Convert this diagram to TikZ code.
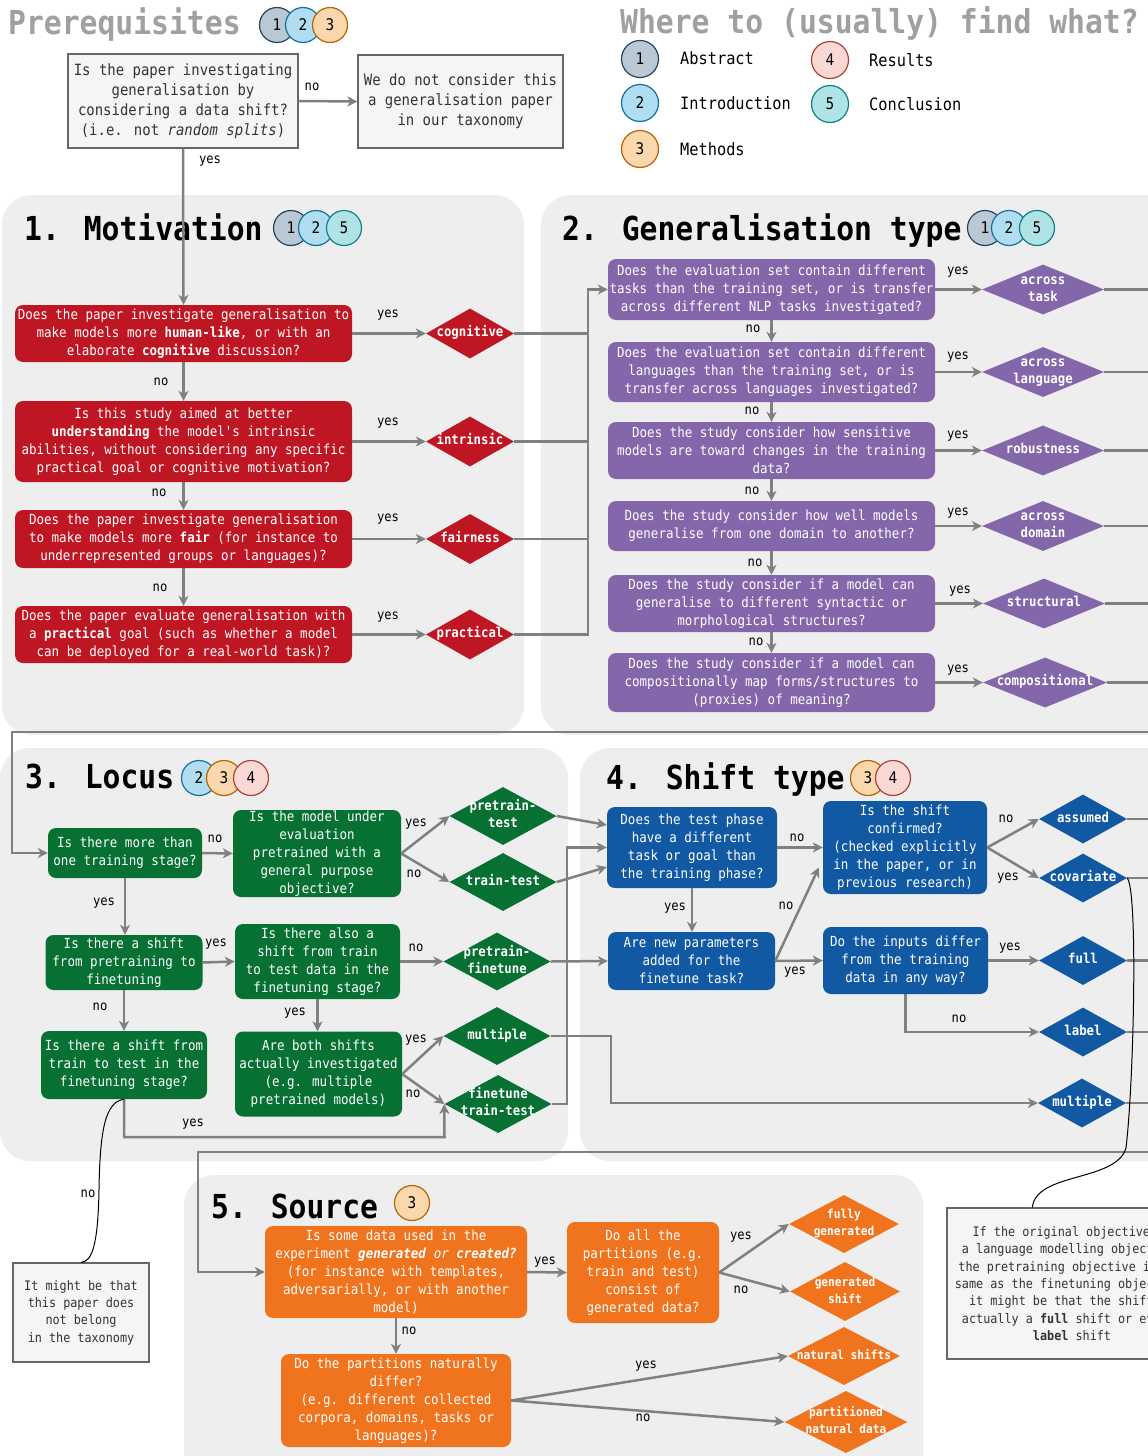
\documentclass[tikz,border=0pt]{standalone}
\usepackage{fontspec}
\newfontfamily\mf[FakeStretch=0.9]{DejaVu Sans Mono}
\usetikzlibrary{shapes.geometric,arrows.meta,calc}
\definecolor{cred}{HTML}{BE1622}
\definecolor{cpur}{HTML}{8467AB}
\definecolor{cgrn}{HTML}{077033}
\definecolor{cblu}{HTML}{1259A3}
\definecolor{corg}{HTML}{F0731E}
\definecolor{cpan}{HTML}{EEEEEE}
\definecolor{carr}{HTML}{808080}
\definecolor{ctitle}{HTML}{A0A0A0}
\definecolor{cf5}{HTML}{F5F5F5}
\definecolor{c66}{HTML}{666666}
\definecolor{c33}{HTML}{333333}
\definecolor{c1f}{HTML}{BAC8D3}\definecolor{c1d}{HTML}{23445D}
\definecolor{c2f}{HTML}{B1DDF0}\definecolor{c2d}{HTML}{10739E}
\definecolor{c3f}{HTML}{FAD7AC}\definecolor{c3d}{HTML}{B46504}
\definecolor{c4f}{HTML}{FAD9D5}\definecolor{c4d}{HTML}{AE4132}
\definecolor{c5f}{HTML}{B0E3E6}\definecolor{c5d}{HTML}{0E8088}
\newcommand\myfbody{\mf\fontsize{13.9}{18}\selectfont}
\newcommand\myfpre{\mf\fontsize{15.5}{20}\selectfont}
\newcommand\myfnote{\mf\fontsize{13.1}{17.3}\selectfont}
\newcommand\myfdia{\mf\bfseries\fontsize{13.7}{17}\selectfont}
\newcommand\myfdiaS{\mf\bfseries\fontsize{12.4}{17}\selectfont}
\newcommand\myflbl{\mf\fontsize{13.5}{14}\selectfont}
\newcommand\myfbadge{\mf\fontsize{16}{16}\selectfont}
\newcommand\myftitle{\mf\bfseries\fontsize{33}{33}\selectfont}
\newcommand\myfleg{\mf\fontsize{17}{17}\selectfont}
\newcommand\dlab[1]{\makebox[0pt]{\begin{tabular}{@{}c@{}}#1\end{tabular}}}
\tikzset{
  sz/.style 2 args={minimum width=#1pt, minimum height=#2pt},
  qbox/.style={rounded corners=8pt, text=white, align=center, inner sep=0pt, font=\myfbody},
  qr/.style={qbox, fill=cred},
  qp/.style={qbox, fill=cpur},
  qg/.style={qbox, fill=cgrn},
  qb/.style={qbox, fill=cblu},
  qo/.style={qbox, fill=corg},
  gbox/.style={fill=cf5, draw=c66, line width=1.3pt, text=c33, align=center, inner sep=0pt},
  dia/.style={diamond, inner sep=0pt, text=white, font=\myfdia},
  ln/.style={draw=carr, line width=2.5pt},
  arr/.style={ln, -{Stealth[length=10pt,width=10pt,inset=3pt]}},
  lbl/.style={font=\myflbl, text=black, inner sep=0pt},
  bdg/.style 2 args={circle, minimum size=35pt, inner sep=0pt, fill=#1, draw=#2, line width=1.2pt, font=\myfbadge},
  bA/.style={bdg={c1f}{c1d}}, bB/.style={bdg={c2f}{c2d}}, bC/.style={bdg={c3f}{c3d}},
  bD/.style={bdg={c4f}{c4d}}, bE/.style={bdg={c5f}{c5d}},
  ttl/.style={anchor=base west, font=\myftitle, inner sep=0pt},
  leg/.style={anchor=base west, font=\myfleg, inner sep=0pt},
  curv/.style={draw=black, line width=1pt},
  panel/.style={fill=cpan, rounded corners=30pt}
}
\begin{document}
\begin{tikzpicture}[x=1pt,y=-1pt]
\useasboundingbox (0,0) rectangle (1148,1456);
\clip (0,0) rectangle (1148,1456);
\fill[white] (0,0) rectangle (1148,1456);
% panels
\fill[panel] (2,195) rectangle (524,735);
\fill[panel] (541,195) rectangle (1220,735);
\fill[panel] (0,748) rectangle (568,1161);
\fill[panel] (580,748) rectangle (1220,1161);
\fill[panel] (184,1175) rectangle (923,1520);

% ---------- headers ----------
\node[ttl, text=ctitle] (tPre) at (8,34) {Prerequisites};
\node[bA] (bpa) at (277,25) {1};
\node[bB] (bpb) at (303,25) {2};
\node[bC] (bpc) at (330,25) {3};
\node[ttl, text=ctitle] (tWhere) at (620,33) {Where to (usually) find what?};
\node[bA, minimum size=37pt] (lg1) at (640,59) {1};
\node[bB, minimum size=37pt] (lg2) at (640,103) {2};
\node[bC, minimum size=37pt] (lg3) at (640,149) {3};
\node[bD, minimum size=37pt] (lg4) at (830,60) {4};
\node[bE, minimum size=37pt] (lg5) at (830,104) {5};
\node[leg] (tAbs) at (680,64) {Abstract};
\node[leg] (tInt) at (680,109) {Introduction};
\node[leg] (tMet) at (680,155) {Methods};
\node[leg] (tRes) at (869,66) {Results};
\node[leg] (tCon) at (869,110) {Conclusion};

% ---------- prerequisites ----------
\node[gbox, sz={230}{94}, font=\myfpre] (pre) at (183,101) {Is the paper investigating\\generalisation by\\considering a data shift?\\(i.e. not \textit{random splits})};
\node[gbox, sz={205}{93}, font=\myfpre] (notgen) at (460.5,101.5) {We do not consider this\\a generalisation paper\\in our taxonomy};

% ---------- 1. Motivation ----------
\node[ttl] (t1) at (24,240) {1. Motivation};
\node[bA] (b1a) at (291,228) {1};
\node[bB] (b1b) at (316,228) {2};
\node[bE] (b1c) at (344,228) {5};
\node[qr, sz={337}{57}] (R1) at (183.5,333.5) {Does the paper investigate generalisation to\\make models more \textbf{human-like}, or with an\\elaborate \textbf{cognitive} discussion?};
\node[qr, sz={337}{81}] (R2) at (183.5,441.5) {Is this study aimed at better\\\textbf{understanding} the model's intrinsic\\abilities, without considering any specific\\practical goal or cognitive motivation?};
\node[qr, sz={337}{58}] (R3) at (183.5,539) {Does the paper investigate generalisation\\to make models more \textbf{fair} (for instance to\\underrepresented groups or languages)?};
\node[qr, sz={337}{57}] (R4) at (183.5,634.5) {Does the paper evaluate generalisation with\\a \textbf{practical} goal (such as whether a model\\can be deployed for a real-world task)?};
\node[dia, fill=cred, sz={88}{50}] (cog) at (470,333.5) {\dlab{cognitive}};
\node[dia, fill=cred, sz={88}{50}] (intr) at (470,441.5) {\dlab{intrinsic}};
\node[dia, fill=cred, sz={88}{50}] (fair) at (470,539) {\dlab{fairness}};
\node[dia, fill=cred, sz={88}{50}] (prac) at (470,634.5) {\dlab{practical}};

% ---------- 2. Generalisation type ----------
\node[ttl] (t2) at (562,240) {2. Generalisation type};
\node[bA] (b2a) at (985,228) {1};
\node[bB] (b2b) at (1009,228) {2};
\node[bE] (b2c) at (1037,228) {5};
\node[qp, sz={327}{61}] (G1) at (771.5,289.5) {Does the evaluation set contain different\\tasks than the training set, or is transfer\\across different NLP tasks investigated?};
\node[qp, sz={327}{60}] (G2) at (771.5,372) {Does the evaluation set contain different\\languages than the training set, or is\\transfer across languages investigated?};
\node[qp, sz={327}{57}] (G3) at (771.5,450.5) {Does the study consider how sensitive\\models are toward changes in the training\\data?};
\node[qp, sz={327}{50}] (G4) at (771.5,526) {Does the study consider how well models\\generalise from one domain to another?};
\node[qp, sz={327}{57}] (G5) at (771.5,603.5) {Does the study consider if a model can\\generalise to different syntactic or\\morphological structures?};
\node[qp, sz={327}{59}] (G6) at (771.5,682.5) {Does the study consider if a model can\\compositionally map forms/structures to\\(proxies) of meaning?};
\node[dia, fill=cpur, sz={122}{50}] (gd1) at (1043,289.5) {\dlab{across\\task}};
\node[dia, fill=cpur, sz={122}{50}] (gd2) at (1043,372) {\dlab{across\\language}};
\node[dia, fill=cpur, sz={122}{50}] (gd3) at (1043,450.5) {\dlab{robustness}};
\node[dia, fill=cpur, sz={122}{50}] (gd4) at (1043,526) {\dlab{across\\domain}};
\node[dia, fill=cpur, sz={122}{50}] (gd5) at (1044,603.5) {\dlab{structural}};
\node[dia, fill=cpur, sz={124}{50}] (gd6) at (1045,682.5) {\dlab{compositional}};

% ---------- 3. Locus ----------
\node[ttl] (t3) at (25,788) {3. Locus};
\node[bB] (b3a) at (199,778) {2};
\node[bC] (b3b) at (224,778) {3};
\node[bD] (b3c) at (251,778) {4};
\node[qg, sz={154}{50}] (L1) at (125,853) {Is there more than\\one training stage?};
\node[qg, sz={168}{87}] (L2) at (317,853.5) {Is the model under\\evaluation\\pretrained with a\\general purpose\\objective?};
\node[qg, sz={157}{55}] (L3) at (124,962.5) {Is there a shift\\from pretraining to\\finetuning};
\node[qg, sz={165}{75}] (L4) at (317.5,961.5) {Is there also a\\shift from train\\to test data in the\\finetuning stage?};
\node[qg, sz={166}{68}] (L5) at (124,1065) {Is there a shift from\\train to test in the\\finetuning stage?};
\node[qg, sz={167}{85}] (L6) at (318.5,1074) {Are both shifts\\actually investigated\\(e.g. multiple\\pretrained models)};
\node[dia, fill=cgrn, sz={107}{58}] (pt) at (503,816) {\dlab{pretrain-\\test}};
\node[dia, fill=cgrn, sz={107}{58}] (tt) at (503,882) {\dlab{train-test}};
\node[dia, fill=cgrn, sz={107}{58}] (pf) at (497,961.5) {\dlab{pretrain-\\finetune}};
\node[dia, fill=cgrn, sz={107}{58}] (mul) at (497,1036) {\dlab{multiple}};
\node[dia, fill=cgrn, sz={107}{58}] (ftt) at (498,1104) {\dlab{finetune\\train-test}};

% ---------- 4. Shift type ----------
\node[ttl] (t4) at (606,789) {4. Shift type};
\node[bC] (b4a) at (868,778) {3};
\node[bD] (b4b) at (893,778) {4};
\node[qb, sz={170}{81}] (S1) at (692,847.5) {Does the test phase\\have a different\\task or goal than\\the training phase?};
\node[qb, sz={167}{58}] (S2) at (691.5,961) {Are new parameters\\added for the\\finetune task?};
\node[qb, sz={164}{93}] (S3) at (905,847.5) {Is the shift\\confirmed?\\(checked explicitly\\in the paper, or in\\previous research)};
\node[qb, sz={165}{67}] (S4) at (905.5,960.5) {Do the inputs differ\\from the training\\data in any way?};
\node[dia, fill=cblu, sz={88}{49}] (as) at (1083,819) {\dlab{assumed}};
\node[dia, fill=cblu, sz={88}{49}] (cov) at (1083,878) {\dlab{covariate}};
\node[dia, fill=cblu, sz={88}{49}] (full) at (1083,960.5) {\dlab{full}};
\node[dia, fill=cblu, sz={88}{49}] (lab) at (1083,1032) {\dlab{label}};
\node[dia, fill=cblu, sz={88}{49}] (mul2) at (1082,1103) {\dlab{multiple}};

% ---------- 5. Source ----------
\node[ttl] (t5) at (211,1218) {5. Source};
\node[bC] (b5a) at (412,1203) {3};
\node[qo, sz={262}{92}] (O1) at (396,1272) {Is some data used in the\\experiment \textbf{\textit{generated}} \textit{or} \textbf{\textit{created?}}\\(for instance with templates,\\adversarially, or with another\\model)};
\node[qo, sz={152}{101}] (O2) at (643,1272.5) {Do all the\\partitions (e.g.\\train and test)\\consist of\\generated data?};
\node[qo, sz={230}{93}] (O3) at (396,1400.5) {Do the partitions naturally\\differ?\\(e.g. different collected\\corpora, domains, tasks or\\languages)?};
\node[dia, fill=corg, font=\myfdiaS, sz={110}{58}] (fg) at (844,1224) {\dlab{fully\\generated}};
\node[dia, fill=corg, font=\myfdiaS, sz={110}{59}] (gs) at (845,1291.5) {\dlab{generated\\shift}};
\node[dia, fill=corg, font=\myfdiaS, sz={112}{58}] (ns) at (844,1356) {\dlab{natural shifts}};
\node[dia, fill=corg, font=\myfdiaS, sz={123}{62}] (pnd) at (846,1422) {\dlab{partitioned\\natural data}};

% ---------- notes ----------
\node[gbox, sz={136}{99}, font=\myfnote] (noteL) at (81,1312.5) {It might be that\\this paper does\\not belong\\in the taxonomy};
\node[gbox, sz={250}{151}, font=\myfnote] (noteR) at (1072,1283.5) {If the original objective is\\a language modelling objective,\\the pretraining objective is the\\same as the finetuning objective,\\it might be that the shift is\\actually a \textbf{full} shift or even a\\\textbf{label} shift};

% ---------- coordinates ----------
\coordinate (busT) at (588,289.5);
\coordinate (farR) at (1175,0);
\coordinate (inA) at (1175,732);
\coordinate (cA) at (12,732);
\coordinate (inB) at (1175,1152);
\coordinate (cB) at (198,1152);
\coordinate (cM) at (611,1036);
\coordinate (cF) at (567,1104);
\coordinate (cY) at (444.5,1137);

% ---------- connectors: prerequisites ----------
\draw[arr] (pre.east) -- (notgen.west) node[lbl] at (312,87) {no};
\draw[arr] (pre.south) -- (R1.north) node[lbl] at (210,161) {yes};

% ---------- connectors: motivation ----------
\draw[arr] (R1.south) -- (R2.north) node[lbl] at (161,382) {no};
\draw[arr] (R2.south) -- (R3.north) node[lbl] at (159,493) {no};
\draw[arr] (R3.south) -- (R4.north) node[lbl] at (160,588) {no};
\draw[arr] (R1.east) -- (cog.west) node[lbl] at (388,315) {yes};
\draw[arr] (R2.east) -- (intr.west) node[lbl] at (388,423) {yes};
\draw[arr] (R3.east) -- (fair.west) node[lbl] at (388,519) {yes};
\draw[arr] (R4.east) -- (prac.west) node[lbl] at (388,617) {yes};
\draw[ln] (cog.east) -- (cog.east -| busT);
\draw[ln] (intr.east) -- (intr.east -| busT);
\draw[ln] (fair.east) -- (fair.east -| busT);
\draw[arr] (prac.east) -| (busT) -- (G1.west);

% ---------- connectors: generalisation type ----------
\draw[arr] (G1.south) -- (G2.north) node[lbl] at (753,329) {no};
\draw[arr] (G2.south) -- (G3.north) node[lbl] at (752,411) {no};
\draw[arr] (G3.south) -- (G4.north) node[lbl] at (752,491) {no};
\draw[arr] (G4.south) -- (G5.north) node[lbl] at (755,563) {no};
\draw[arr] (G5.south) -- (G6.north) node[lbl] at (756,642) {no};
\draw[arr] (G1.east) -- (gd1.west) node[lbl] at (958,272) {yes};
\draw[arr] (G2.east) -- (gd2.west) node[lbl] at (958,357) {yes};
\draw[arr] (G3.east) -- (gd3.west) node[lbl] at (958,436) {yes};
\draw[arr] (G4.east) -- (gd4.west) node[lbl] at (958,513) {yes};
\draw[arr] (G5.east) -- (gd5.west) node[lbl] at (960,591) {yes};
\draw[arr] (G6.east) -- (gd6.west) node[lbl] at (958,670) {yes};
\draw[ln] (gd1.east) -- (gd1.east -| farR);
\draw[ln] (gd2.east) -- (gd2.east -| farR);
\draw[ln] (gd3.east) -- (gd3.east -| farR);
\draw[ln] (gd4.east) -- (gd4.east -| farR);
\draw[ln] (gd5.east) -- (gd5.east -| farR);
\draw[ln] (gd6.east) -- (gd6.east -| farR);
\draw[arr] (inA) -- (cA) |- (L1.west);

% ---------- connectors: locus ----------
\draw[arr] (L1.east) -- (L2.west) node[lbl] at (215,839) {no};
\draw[arr] (L1.south) -- (L1.south |- L3.north) node[lbl] at (104,903) {yes};
\draw[arr] (L3.east) -- (L4.west) node[lbl] at (216,944) {yes};
\draw[arr] (L3.south) -- (L5.north) node[lbl] at (100,1007) {no};
\draw[arr] (L4.south) -- (L4.south |- L6.north) node[lbl] at (295,1013) {yes};
\draw[arr] (L2.east) -- (pt.west) node[lbl] at (416,824) {yes};
\draw[arr] (L2.east) -- (tt.west) node[lbl] at (414,874) {no};
\draw[arr] (L4.east) -- (pf.west) node[lbl] at (416,948) {no};
\draw[arr] (L6.east) -- (mul.west) node[lbl] at (416,1040) {yes};
\draw[arr] (L6.east) -- (ftt.west) node[lbl] at (413,1094) {no};
\draw[arr] (L5.south) |- (cY) -- (ftt.west) node[lbl] at (193,1124) {yes};
\draw[arr] (pt.east) -- ($(S1.west)+(0,-22.5)$);
\draw[arr] (tt.east) -- ($(S1.west)+(0,19.5)$);
\draw[arr] (ftt.east) -- (cF) |- (S1.west);
\draw[arr] (pf.east) -- (S2.west);
\draw[arr] (mul.east) -- (cM) |- (mul2.west);

% ---------- connectors: shift type ----------
\draw[arr] (S1.east) -- (S3.west) node[lbl] at (797,838) {no};
\draw[arr] (S1.south) -- (S1.south |- S2.north) node[lbl] at (675,908) {yes};
\draw[arr] (S2.east) -- ($(S3.west)+(-4,20)$) node[lbl] at (786,906) {no};
\draw[arr] (S2.east) -- (S4.west) node[lbl] at (795,972) {yes};
\draw[arr] (S3.east) -- (as.west) node[lbl] at (1006,819) {no};
\draw[arr] (S3.east) -- (cov.west) node[lbl] at (1008,878) {yes};
\draw[arr] (S4.east) -- (full.west) node[lbl] at (1010,948) {yes};
\draw[arr] (S4.south) |- (lab.west) node[lbl] at (959,1019) {no};
\draw[ln] (as.east) -- (as.east -| farR);
\draw[ln] (cov.east) -- (cov.east -| farR);
\draw[ln] (full.east) -- (full.east -| farR);
\draw[ln] (lab.east) -- (lab.east -| farR);
\draw[ln] (mul2.east) -- (mul2.east -| farR);
\draw[arr] (inB) -- (cB) |- (O1.west);

% ---------- connectors: source ----------
\draw[arr] (O1.east) -- (O2.west) node[lbl] at (545,1262) {yes};
\draw[arr] (O1.south) -- (O3.north) node[lbl] at (409,1331) {no};
\draw[arr] (O2.east) -- (fg.west) node[lbl] at (741,1237) {yes};
\draw[arr] (O2.east) -- (gs.west) node[lbl] at (741,1290) {no};
\draw[arr] (O3.east) -- (ns.west) node[lbl] at (646,1366) {yes};
\draw[arr] (O3.east) -- (pnd.west) node[lbl] at (643,1418) {no};

% ---------- note curves ----------
\draw[curv] (cov.east) .. controls (1138,890) and (1134,1080) .. (1126,1148) .. controls (1116,1182) and (1036,1172) .. ($(noteR.north west)+(86,0)$);
\draw[curv] (L5.south) .. controls (105,1102) and (100,1130) .. (99,1190) .. controls (98,1245) and (92,1262) .. (noteL.north) node[lbl] at (88,1194) {no};
\end{tikzpicture}
\end{document}
